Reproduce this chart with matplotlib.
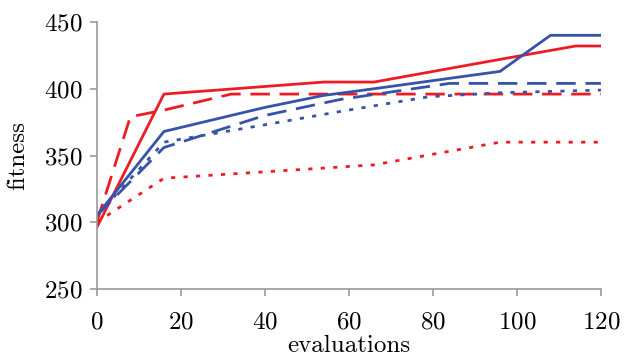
import matplotlib
matplotlib.use("Agg")
import matplotlib.pyplot as plt

# data
red_solid_x = [0, 16, 54, 66, 96, 114, 120]
red_solid_y = [296, 396, 405, 405, 422, 432, 432]
red_dash_x = [0, 8, 16, 32, 120]
red_dash_y = [300, 379, 384, 396, 396]
red_dot_x = [0, 16, 66, 96, 120]
red_dot_y = [300, 333, 343, 360, 360]

blue_solid_x = [0, 16, 40, 54, 66, 96, 108, 120]
blue_solid_y = [305, 368, 386, 395, 400, 413, 440, 440]
blue_dash_x = [0, 16, 40, 58, 84, 120]
blue_dash_y = [305, 356, 380, 392, 404, 404]
blue_dot_x = [0, 16, 40, 58, 79, 96, 120]
blue_dot_y = [305, 360, 373, 383, 394, 397, 399]

xticks = [0, 20, 40, 60, 80, 100, 120]
yticks = [250, 300, 350, 400, 450]

red = "#ed1c24"
blue = "#3553a9"

plt.rcParams["font.family"] = "serif"
plt.rcParams["font.serif"] = ["cmr10", "DejaVu Serif"]
plt.rcParams["axes.formatter.use_mathtext"] = True
plt.rcParams["mathtext.fontset"] = "cm"

fig = plt.figure(figsize=(6.24, 3.6), dpi=100)
ax = fig.add_axes([0.155, 0.197, 0.808, 0.742])

lw = 2.0
ax.plot(red_solid_x, red_solid_y, color=red, lw=lw)
ax.plot(red_dash_x, red_dash_y, color=red, lw=lw, dashes=(7, 3.5))
ax.plot(red_dot_x, red_dot_y, color=red, lw=lw, dashes=(1.5, 3))
ax.plot(blue_solid_x, blue_solid_y, color=blue, lw=lw)
ax.plot(blue_dash_x, blue_dash_y, color=blue, lw=lw, dashes=(7, 3.5))
ax.plot(blue_dot_x, blue_dot_y, color=blue, lw=lw, dashes=(1.5, 3))

ax.set_xlim(0, 120)
ax.set_ylim(250, 450)
ax.set_xticks(xticks)
ax.set_yticks(yticks)
for s in ["top", "right"]:
    ax.spines[s].set_visible(False)
for s in ["left", "bottom"]:
    ax.spines[s].set_color("#9a9a9a")
    ax.spines[s].set_linewidth(1.2)
ax.tick_params(colors="#9a9a9a", labelcolor="black", length=5, width=1.2,
               labelsize=18, direction="out")
ax.tick_params(axis="x", pad=11)
ax.tick_params(axis="y", pad=5)
ax.set_xlabel("evaluations", fontsize=18, labelpad=1)
ax.set_ylabel("fitness", fontsize=18, labelpad=11)

fig.savefig("out.png", dpi=100)
